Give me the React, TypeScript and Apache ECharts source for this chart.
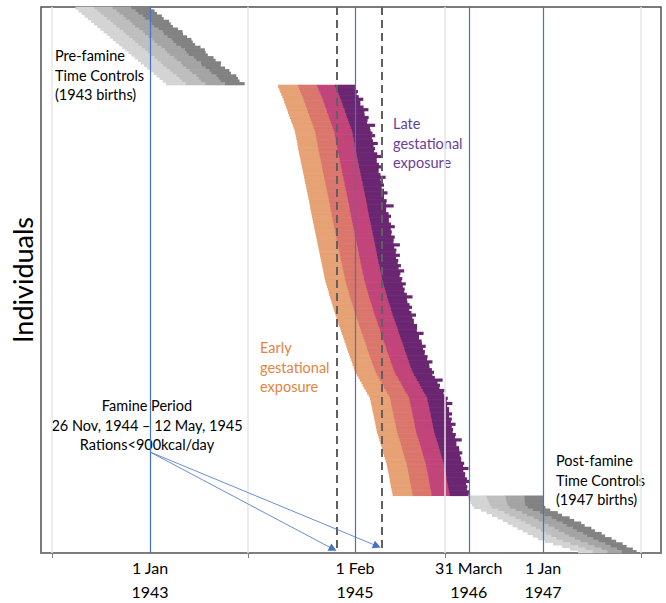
import React, { useEffect, useRef } from 'react';
import * as echarts from 'echarts';

// x values: days since 1 Jan 1942
const X_MIN = -40.2;
const X_MAX = 2264.7;
const GRID_TICKS = [0, 730, 1461, 2191]; // 1 Jan 1942, 1944, 1946, 1948
const LABEL_DAYS = [365, 1127, 1550, 1826];
const LABEL_TEXTS = ['1 Jan\n1943', '1 Feb\n1945', '31 March\n1946', '1 Jan\n1947'];
const BLUE_LINES = [365, 1127, 1550, 1826];
const FAMINE_BOUNDS = [1060, 1227]; // 26 Nov 1944, 12 May 1945
const FAMINE_SEGMENT_OFFSETS = [74, 145, 212]; // days from conception to each band boundary
const CONTROL_SEGMENT_FRACTIONS = [0.25, 0.5, 0.75];

// Pre-famine time controls (1943 births): conception day and gestation length
const preStart = [
  88, 99, 111, 122, 134, 146, 157, 169, 180, 192,
  204, 215, 227, 238, 250, 262, 273, 285, 296, 308,
  320, 331, 343, 354, 366, 378, 389, 401, 412, 424,
];
const preLength = [
  277, 283, 280, 287, 282, 290, 285, 281, 289, 294,
  284, 288, 292, 286, 283, 291, 296, 287, 284, 293,
  289, 298, 285, 290, 294, 288, 297, 291, 286, 293,
];

// Famine-exposed individuals
const famStart = [
  841, 845, 849, 853, 857, 861, 864, 868, 871, 875,
  878, 882, 885, 889, 892, 896, 899, 903, 905, 907,
  909, 911, 913, 914, 916, 918, 920, 922, 924, 926,
  928, 930, 932, 934, 936, 938, 940, 942, 944, 946,
  948, 950, 952, 954, 956, 958, 960, 961, 963, 965,
  967, 969, 971, 973, 975, 977, 979, 981, 983, 985,
  987, 989, 991, 993, 995, 997, 999, 1001, 1003, 1005,
  1007, 1009, 1011, 1013, 1015, 1017, 1020, 1023, 1026, 1029,
  1031, 1034, 1037, 1040, 1043, 1046, 1049, 1052, 1055, 1058,
  1062, 1065, 1068, 1072, 1075, 1078, 1082, 1085, 1088, 1092,
  1095, 1098, 1101, 1105, 1108, 1112, 1115, 1118, 1122, 1125,
  1129, 1134, 1140, 1145, 1151, 1156, 1161, 1167, 1172, 1178,
  1183, 1185, 1187, 1189, 1191, 1193, 1195, 1197, 1199, 1201,
  1203, 1205, 1207, 1209, 1212, 1215, 1218, 1221, 1224, 1227,
  1230, 1232, 1235, 1238, 1241, 1244, 1246, 1248, 1250, 1252,
  1254, 1256, 1257, 1259, 1261, 1263, 1265, 1267,
];
const famLength = [
  286, 282, 289, 280, 284, 297, 283, 279, 288, 302,
  284, 281, 293, 285, 280, 306, 284, 282, 287, 295,
  281, 283, 299, 282, 286, 280, 290, 309, 284, 282,
  288, 296, 283, 281, 286, 303, 282, 284, 291, 280,
  287, 298, 283, 281, 289, 285, 311, 282, 280, 287,
  294, 284, 282, 288, 300, 283, 285, 281, 292, 286,
  283, 305, 282, 288, 284, 297, 281, 287, 283, 293,
  282, 301, 285, 280, 288, 283, 296, 282, 286, 281,
  289, 307, 283, 282, 287, 293, 280, 285, 299, 282,
  284, 281, 290, 286, 282, 304, 283, 280, 287, 284,
  295, 282, 286, 281, 289, 283, 300, 285, 282, 288,
  292, 281, 284, 308, 283, 287, 280, 296, 284, 282,
  289, 283, 302, 281, 286, 284, 293, 280, 288, 283,
  298, 282, 285, 281, 290, 284, 306, 283, 280, 287,
  285, 294, 282, 284, 281, 289, 283, 301, 280, 285,
  282, 288, 296, 281, 284, 280, 287, 283,
];

// Post-famine time controls (1947 births)
const postStart = [
  1547, 1551, 1557, 1562, 1569, 1595, 1616, 1636, 1657, 1677,
  1694, 1713, 1731, 1750, 1768, 1789, 1807, 1833, 1863, 1897,
  1926, 1956,
];
const postLength = [
  279, 275, 269, 264, 266, 258, 265, 261, 268, 265,
  274, 268, 275, 269, 276, 268, 274, 265, 259, 240,
  234, 218,
];

const FAMINE_COLORS = ['#E6A274', '#DA766B', '#C1447A', '#6B2672'];
const GREY_COLORS = ['#D4D4D4', '#BEBEBE', '#A4A4A4', '#828282'];

const FONT = 'Lato';

export default function App() {
  const ref = useRef<HTMLDivElement>(null);

  useEffect(() => {
    if (!ref.current) return;
    const chart = echarts.init(ref.current, null, { renderer: 'svg' });

    const groups = [
      { starts: preStart, lengths: preLength, colors: GREY_COLORS, famine: false },
      { starts: famStart, lengths: famLength, colors: FAMINE_COLORS, famine: true },
      { starts: postStart, lengths: postLength, colors: GREY_COLORS, famine: false },
    ];
    const rowIds: string[] = [];
    const data: number[][] = [];
    groups.forEach((g, gi) => {
      g.starts.forEach((s, i) => {
        const idx = rowIds.length;
        rowIds.push('ind' + idx);
        const len = g.lengths[i] ?? 285;
        const b = g.famine
          ? FAMINE_SEGMENT_OFFSETS.map((o) => s + o)
          : CONTROL_SEGMENT_FRACTIONS.map((f) => s + len * f);
        data.push([idx, s, b[0], b[1], b[2], s + len, gi]);
      });
    });

    const renderItem = (params: any, api: any) => {
      const y = api.value(0);
      const gi = api.value(6);
      const colors = groups[gi].colors;
      const h = api.size([0, 1])[1];
      const children: any[] = [];
      for (let k = 0; k < 4; k++) {
        const p0 = api.coord([api.value(1 + k), y]);
        const p1 = api.coord([api.value(2 + k), y]);
        children.push({
          type: 'rect',
          shape: {
            x: p0[0],
            y: p0[1] - h / 2 - 0.3,
            width: p1[0] - p0[0] + (k < 3 ? 0.4 : 0),
            height: h + 0.6,
          },
          style: { fill: colors[k] },
        });
      }
      return { type: 'group', children };
    };

    const labelFor = (v: number) => {
      const i = LABEL_DAYS.findIndex((d) => Math.abs(d - v) < 0.5);
      return i >= 0 ? LABEL_TEXTS[i] : '';
    };

    const textBase = { fontFamily: FONT, fontSize: 14.5, lineHeight: 19.5 };
    const anchor = [[GRID_TICKS[0], 'ind0']];
    const hiddenLine = { showSymbol: false, lineStyle: { opacity: 0 }, silent: true, data: anchor };

    const option: any = {
      animation: false,
      backgroundColor: '#ffffff',
      textStyle: { fontFamily: FONT },
      grid: {
        left: 41,
        top: 7,
        width: 620,
        height: 546,
        show: true,
        borderColor: '#505050',
        borderWidth: 1.5,
        backgroundColor: 'transparent',
      },
      xAxis: {
        type: 'value',
        min: X_MIN,
        max: X_MAX,
        axisLine: { show: true, lineStyle: { color: '#7f7f7f', width: 1.5 } },
        axisTick: {
          show: true,
          customValues: GRID_TICKS,
          length: 5,
          lineStyle: { color: '#7f7f7f', width: 1 },
        },
        axisLabel: {
          customValues: LABEL_DAYS,
          formatter: (v: number) => labelFor(v),
          fontSize: 16,
          lineHeight: 24,
          color: '#000',
          margin: 2,
          fontFamily: FONT,
        },
        splitLine: { show: false },
      },
      yAxis: {
        type: 'category',
        inverse: true,
        data: rowIds,
        axisLine: { show: false },
        axisTick: { show: false },
        axisLabel: { show: false },
        splitLine: { show: false },
        name: 'Individuals',
        nameLocation: 'middle',
        nameGap: 5,
        nameRotate: 90,
        nameTextStyle: { fontSize: 27, color: '#000', fontFamily: FONT },
      },
      series: [
        {
          type: 'line',
          z: 1,
          ...hiddenLine,
          markLine: {
            silent: true,
            symbol: 'none',
            label: { show: false },
            lineStyle: { color: '#E6E6E6', width: 1.5, type: 'solid' },
            data: GRID_TICKS.map((v) => ({ xAxis: v })),
          },
        },
        {
          type: 'custom',
          z: 2,
          renderItem,
          data,
          encode: { x: [1, 2, 3, 4, 5], y: 0 },
          silent: true,
        },
        {
          type: 'line',
          z: 3,
          ...hiddenLine,
          color: '#4472C4',
          markLine: {
            silent: true,
            symbol: 'none',
            label: { show: false },
            lineStyle: { color: '#4472C4', width: 1.2, type: 'solid', opacity: 1 },
            data: BLUE_LINES.map((v) => ({ xAxis: v })),
          },
        },
        {
          type: 'line',
          z: 3,
          ...hiddenLine,
          color: '#606060',
          markLine: {
            silent: true,
            symbol: 'none',
            label: { show: false },
            lineStyle: { color: '#606060', width: 2, type: [8, 5], opacity: 1 },
            data: FAMINE_BOUNDS.map((v) => ({ xAxis: v })),
          },
        },
        {
          type: 'line',
          z: 3,
          ...hiddenLine,
          color: '#4472C4',
          markLine: {
            silent: true,
            symbol: ['none', 'triangle'],
            symbolSize: 8,
            label: { show: false },
            lineStyle: { color: '#4472C4', width: 0.8, type: 'solid', opacity: 1 },
            data: [
              [{ x: 150, y: 452 }, { x: 333, y: 549 }],
              [{ x: 150, y: 452 }, { x: 377, y: 546 }],
            ],
          },
        },
      ],
      graphic: [
        { type: 'text', left: 55, top: 46, style: { ...textBase, text: 'Pre-famine\nTime Controls\n(1943 births)', fill: '#000' } },
        { type: 'text', left: 556, top: 451, style: { ...textBase, text: 'Post-famine\nTime Controls\n(1947 births)', fill: '#000' } },
        { type: 'text', left: 393, top: 114, style: { ...textBase, text: 'Late\ngestational\nexposure', fill: '#68409A' } },
        { type: 'text', left: 260, top: 338, style: { ...textBase, text: 'Early\ngestational\nexposure', fill: '#E2843F' } },
        {
          type: 'text',
          x: 147,
          y: 396,
          style: {
            ...textBase,
            text: 'Famine Period\n26 Nov, 1944 – 12 May, 1945\nRations<900kcal/day',
            fill: '#000',
            align: 'center',
          },
        },
      ],
    };

    chart.setOption(option);
    return () => chart.dispose();
  }, []);

  return <div ref={ref} style={{ position: 'fixed', left: 0, top: 0, width: 666, height: 603 }} />;
}
